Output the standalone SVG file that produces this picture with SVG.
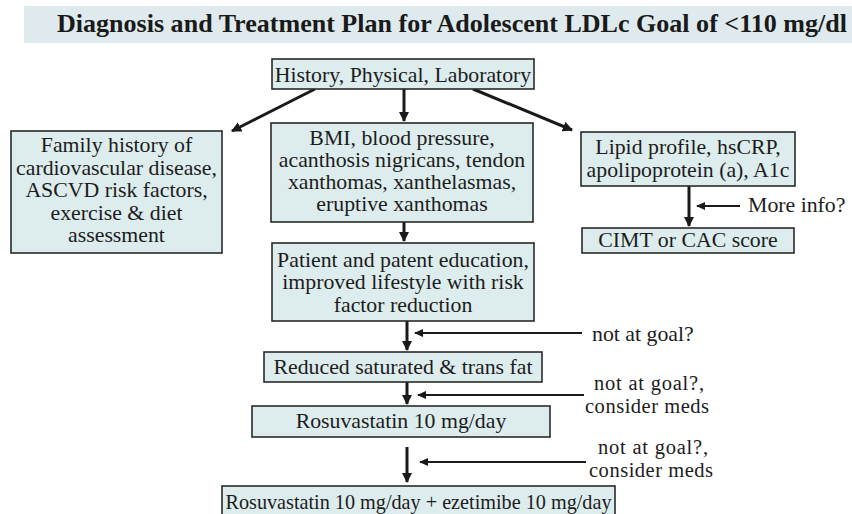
<svg xmlns="http://www.w3.org/2000/svg" width="852" height="514" viewBox="0 0 852 514">
  <defs>
    <marker id="ah" viewBox="0 0 10 10" refX="9" refY="5" markerWidth="3.4" markerHeight="3.4" orient="auto" markerUnits="strokeWidth">
      <path d="M0,0 L10,5 L0,10 z" fill="#1a1a1a"/>
    </marker>
    <marker id="ahs" viewBox="0 0 10 10" refX="9" refY="5" markerWidth="4.2" markerHeight="4.2" orient="auto" markerUnits="strokeWidth">
      <path d="M0,0.5 L10,5 L0,9.5 z" fill="#1a1a1a"/>
    </marker>
    <style>
      .box { fill: #ddeced; stroke: #2a2a2a; stroke-width: 1.6; }
      .t { font-size: 21.8px; fill: #1c1c1c; text-anchor: middle; }
      .s { font-size: 21.8px; fill: #1c1c1c; }
      .n { font-size: 20.5px; fill: #1c1c1c; }
      .c { stroke: #1a1a1a; stroke-width: 3; fill: none; marker-end: url(#ah); }
      .cs { stroke: #1a1a1a; stroke-width: 2.2; fill: none; marker-end: url(#ahs); }
    </style>
  </defs>
  <rect width="852" height="514" fill="#ffffff"/>

  <g font-family="Liberation Serif, Times New Roman, serif">
  <!-- title band -->
  <g id="title">
    <rect x="24" y="6" width="828" height="37" fill="#deeaed"/>
    <text x="57" y="32" textLength="790" lengthAdjust="spacingAndGlyphs" font-weight="bold" font-size="26" fill="#1a1a1a">Diagnosis and Treatment Plan for Adolescent LDLc Goal  of &lt;110 mg/dl</text>
  </g>

  <g id="connectors">
    <path class="c" d="M315,89 L232,131"/>
    <path class="c" d="M404,89 L404,121"/>
    <path class="c" d="M473,89 L572,130"/>
    <path class="c" d="M404,222 L404,241"/>
    <path class="c" d="M689,186 L689,226"/>
    <path class="cs" d="M740,206 L697,206"/>
    <path class="c" d="M407,321 L407,350"/>
    <path class="cs" d="M582,333 L415,333"/>
    <path class="c" d="M407,382 L407,404"/>
    <path class="cs" d="M584,395 L418,395"/>
    <path class="c" d="M407,447 L407,482"/>
    <path class="cs" d="M586,462 L420,462"/>
  </g>

  <g id="history">
    <rect class="box" x="272" y="59" width="262" height="30"/>
    <text class="t" x="403" y="82">History, Physical, Laboratory</text>
  </g>

  <g id="family">
    <rect class="box" x="11" y="131" width="211" height="122"/>
    <text class="t" x="116.5" y="152">Family history of</text>
    <text class="t" x="116.5" y="175">cardiovascular disease,</text>
    <text class="t" x="116.5" y="197">ASCVD risk factors,</text>
    <text class="t" x="116.5" y="220">exercise &amp; diet</text>
    <text class="t" x="116.5" y="242">assessment</text>
  </g>

  <g id="exam">
    <rect class="box" x="271" y="123" width="262" height="99"/>
    <text class="t" x="402" y="145">BMI, blood pressure,</text>
    <text class="t" x="402" y="167">acanthosis nigricans, tendon</text>
    <text class="t" x="402" y="189">xanthomas, xanthelasmas,</text>
    <text class="t" x="402" y="211">eruptive xanthomas</text>
  </g>

  <g id="lipid">
    <rect class="box" x="581" y="132" width="214" height="54"/>
    <text class="t" x="688" y="154">Lipid profile, hsCRP,</text>
    <text class="t" x="688" y="177">apolipoprotein (a), A1c</text>
  </g>

  <g id="cimt">
    <rect class="box" x="582" y="228" width="212" height="25"/>
    <text class="t" x="688" y="247">CIMT or CAC score</text>
  </g>
  <text class="s" x="748" y="212">More info?</text>

  <g id="education">
    <rect class="box" x="272" y="243" width="262" height="78"/>
    <text class="t" x="403" y="267">Patient and patent education,</text>
    <text class="t" x="403" y="289">improved lifestyle with risk</text>
    <text class="t" x="403" y="312">factor reduction</text>
  </g>
  <text class="s" x="592" y="341">not at goal?</text>

  <g id="diet">
    <rect class="box" x="264" y="352" width="278" height="30"/>
    <text class="t" x="403" y="374">Reduced saturated &amp; trans fat</text>
  </g>
  <text class="n" x="594" y="390" textLength="110">not at goal?,</text>
  <text class="n" x="585" y="413" textLength="124">consider meds</text>

  <g id="statin">
    <rect class="box" x="252" y="406" width="298" height="31"/>
    <text class="t" x="401" y="428">Rosuvastatin 10 mg/day</text>
  </g>
  <text class="n" x="598" y="454" textLength="110">not at goal?,</text>
  <text class="n" x="589" y="477" textLength="124">consider meds</text>

  <g id="combo">
    <rect class="box" x="222" y="486" width="393" height="34"/>
    <text class="t" x="418.5" y="509" textLength="386" lengthAdjust="spacingAndGlyphs">Rosuvastatin 10 mg/day + ezetimibe 10 mg/day</text>
  </g>
  </g>
</svg>
